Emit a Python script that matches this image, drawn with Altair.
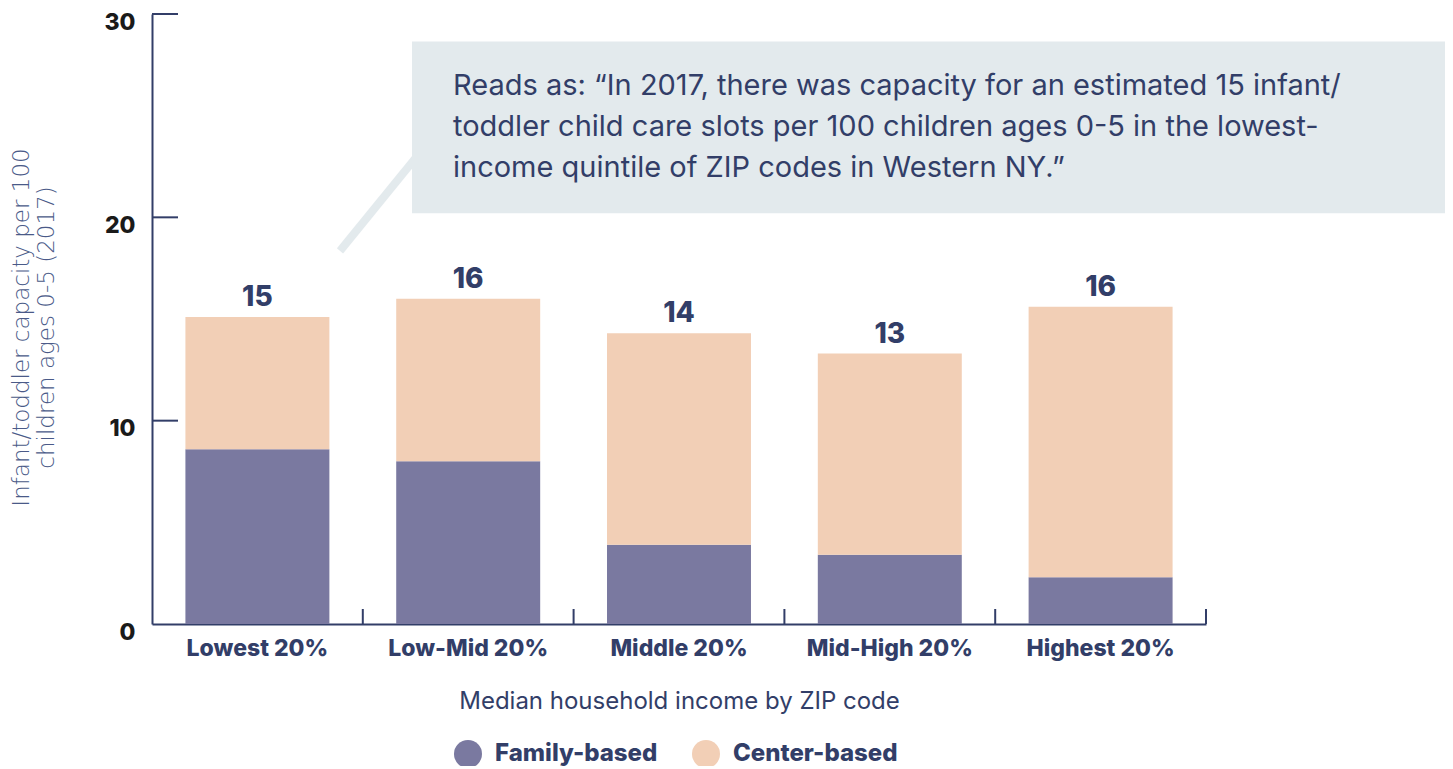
import altair as alt
import pandas as pd

categories = ["Lowest 20%", "Low-Mid 20%", "Middle 20%", "Mid-High 20%", "Highest 20%"]
family_based = [8.6, 8.0, 3.9, 3.4, 2.3]
center_based = [6.5, 8.0, 10.4, 9.9, 13.3]
series_names = ["Family-based", "Center-based"]
series_colors = ["#7a79a0", "#f2cfb6"]
y_ticks = [0, 10, 20, 30]
note_lines = [
    "Reads as: \u201cIn 2017, there was capacity for an estimated 15 infant/",
    "toddler child care slots per 100 children ages 0-5 in the lowest-",
    "income quintile of ZIP codes in Western NY.\u201d",
]

NAVY = "#323e68"
FONT = "Inter"
W, H = 1054, 610

rows = []
for c, f, ce in zip(categories, family_based, center_based):
    rows.append({"cat": c, "series": "Family-based", "val": f, "ord": 0})
    rows.append({"cat": c, "series": "Center-based", "val": ce, "ord": 1})
df = pd.DataFrame(rows)
tot = pd.DataFrame({
    "cat": categories,
    "total": [f + c for f, c in zip(family_based, center_based)],
})
tot["label"] = tot["total"].round().astype(int).astype(str)

xscale = alt.Scale(domain=categories, paddingInner=0, paddingOuter=0)
yscale = alt.Scale(domain=[0, 30], nice=False)

x_enc = alt.X(
    "cat:N", sort=categories, scale=xscale,
    axis=alt.Axis(
        title="Median household income by ZIP code", labelAngle=0, ticks=False,
        domainColor=NAVY, domainWidth=2, labelFont=FONT, labelFontSize=23,
        labelFontWeight=800, labelColor=NAVY, labelPadding=13,
        titleFont=FONT, titleFontSize=24, titleFontWeight="normal",
        titleColor=NAVY, titlePadding=29,
    ),
)

bars = alt.Chart(df).mark_bar(width=alt.RelativeBandSize(0.683)).encode(
    x=x_enc,
    y=alt.Y(
        "val:Q", stack="zero", scale=yscale,
        axis=alt.Axis(
            values=y_ticks, ticks=False, grid=False, domainColor=NAVY,
            domainWidth=2, labelFont=FONT, labelFontSize=23, labelFontWeight=800,
            labelColor="#1a1a1a", labelPadding=17, labelOffset=8,
            title=["Infant/toddler capacity per 100", "children ages 0-5 (2017)"],
            titleFont="DejaVu Sans", titleFontSize=23, titleFontWeight=300,
            titleColor="#4a5a88", titlePadding=45, titleLineHeight=25,
            titleY=313,
        ),
    ),
    color=alt.Color(
        "series:N", scale=alt.Scale(domain=series_names, range=series_colors),
        title=None,
        legend=alt.Legend(
            orient="none", legendX=302, legendY=726, direction="horizontal",
            symbolType="circle", symbolSize=784, symbolStrokeWidth=0,
            symbolOpacity=1, labelFont=FONT, labelFontSize=24,
            labelFontWeight=800, labelColor=NAVY, columnPadding=34,
            labelOffset=13, labelLimit=400,
        ),
    ),
    order=alt.Order("ord:Q"),
)

labels = alt.Chart(tot).mark_text(
    font=FONT, fontSize=28, fontWeight=800, color=NAVY, baseline="alphabetic", dy=-11
).encode(
    x=alt.X("cat:N", sort=categories, scale=xscale),
    y=alt.Y("total:Q", scale=yscale),
    text="label:N",
)

ytick_df = pd.DataFrame({"v": y_ticks[1:]})
yticks = alt.Chart(ytick_df).mark_rule(color=NAVY, strokeWidth=2).encode(
    x=alt.value(0), x2=alt.value(26), y=alt.Y("v:Q", scale=yscale)
)

xtick_df = pd.DataFrame({"cat": categories})
xticks = alt.Chart(xtick_df).mark_rule(color=NAVY, strokeWidth=2).encode(
    x=alt.X("cat:N", sort=categories, scale=xscale, bandPosition=1),
    y=alt.value(H - 15), y2=alt.value(H),
)

ann = pd.DataFrame({"y": [28.65], "y2": [20.2], "ly": [18.35], "ly2": [23.0]})
leader = alt.Chart(ann).mark_rule(color="#e3eaed", strokeWidth=8).encode(
    x=alt.value(188), x2=alt.value(265),
    y=alt.Y("ly:Q", scale=yscale), y2="ly2:Q",
)
box = alt.Chart(ann).mark_rect(color="#e3eaed").encode(
    x=alt.value(260), x2=alt.value(1295),
    y=alt.Y("y:Q", scale=yscale), y2="y2:Q",
)
note = alt.Chart(ann).mark_text(
    font=FONT, fontSize=29, color=NAVY, align="left", baseline="middle",
    lineHeight=41,
).encode(
    x=alt.value(301), y=alt.value(72), text=alt.value(note_lines),
)

chart = alt.layer(leader, box, note, bars, labels, yticks, xticks).properties(
    width=W, height=H,
    autosize=alt.AutoSizeParams(type="none"),
    padding={"left": 144, "top": 6, "right": 239, "bottom": 142},
).configure_view(stroke=None).configure_axis(grid=False)

chart.save("out.html", embed_options={"renderer": "svg", "actions": False})
